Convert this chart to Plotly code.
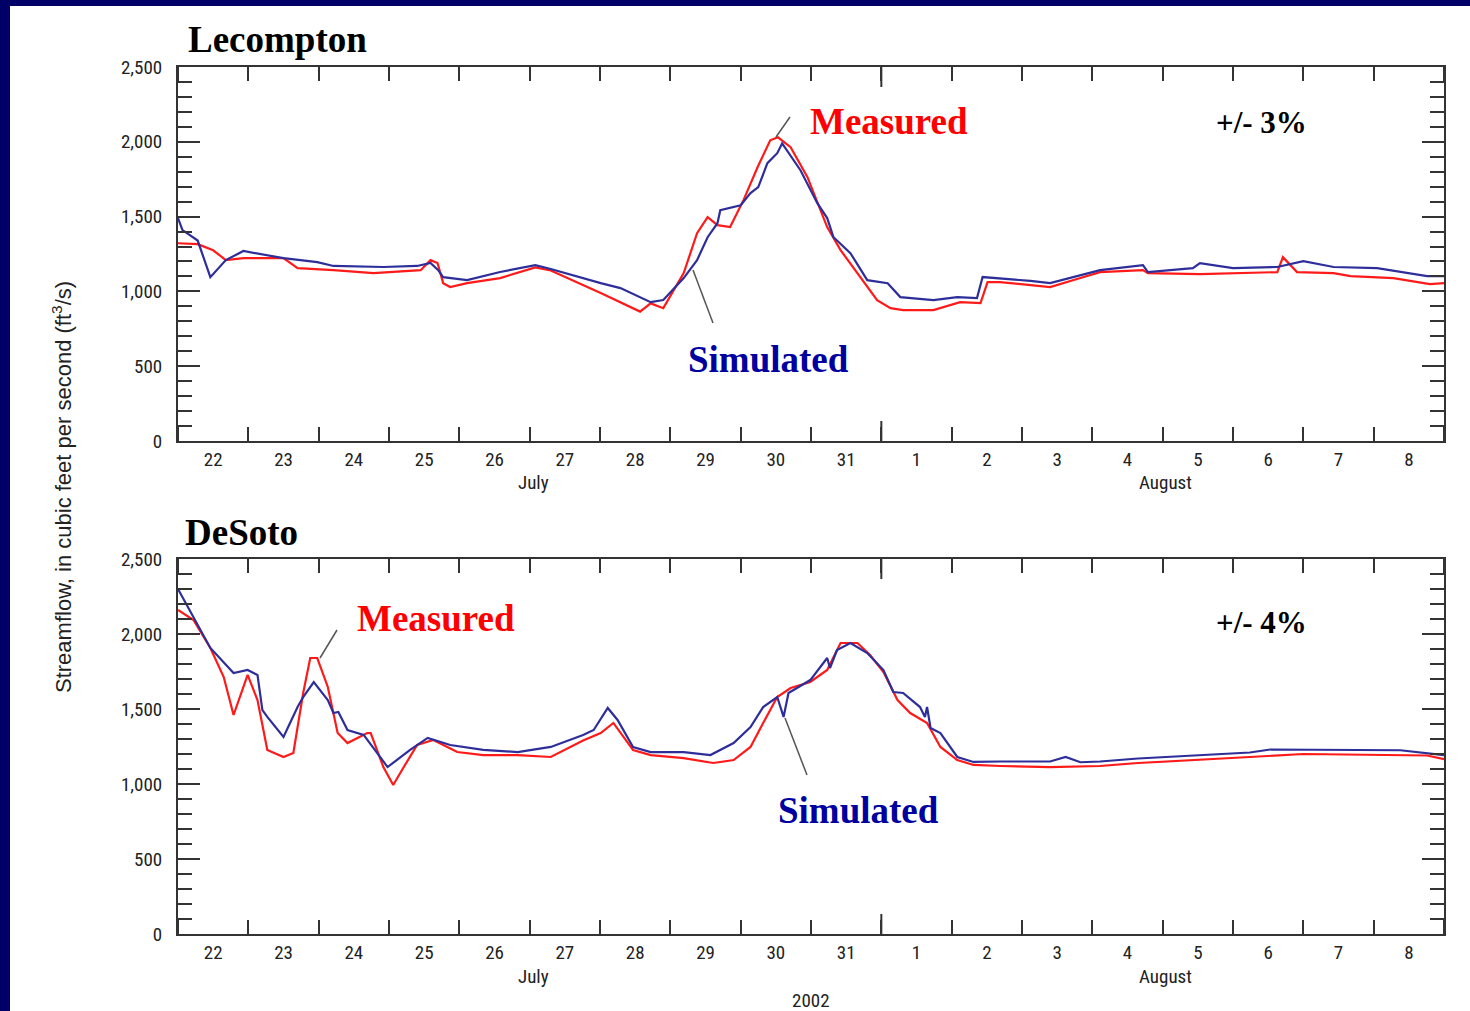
import pandas as pd
import plotly.graph_objects as go

# ---------------- data (days after 2002-07-22 00:00, streamflow ft3/s) ----------------
lec_meas_day = [0.0, 0.28, 0.50, 0.68, 0.93, 1.50, 1.70, 2.21, 2.78, 3.45, 3.59, 3.69, 3.77, 3.87,
                4.11, 4.58, 5.08, 5.30, 6.01, 6.29, 6.57, 6.72, 6.90, 7.19, 7.38, 7.53, 7.67, 7.85,
                8.04, 8.24, 8.42, 8.53, 8.71, 8.95, 9.23, 9.42, 9.70, 9.94, 10.13, 10.31, 10.74,
                11.12, 11.41, 11.51, 11.69, 12.12, 12.40, 12.83, 13.11, 13.72, 13.79, 14.53, 15.00,
                15.63, 15.71, 15.91, 16.43, 16.67, 17.28, 17.80, 18.0]
lec_meas_q = [1322, 1316, 1275, 1209, 1222, 1222, 1155, 1142, 1122, 1142, 1209, 1190, 1055, 1029,
              1055, 1089, 1160, 1140, 990, 930, 865, 920, 888, 1122, 1389, 1496, 1443, 1430,
              1610, 1830, 2010, 2030, 1964, 1764, 1430, 1276, 1096, 942, 888, 875, 875,
              928, 922, 1062, 1062, 1040, 1029, 1090, 1129, 1142, 1122, 1116, 1122,
              1129, 1229, 1129, 1122, 1102, 1089, 1049, 1055]

lec_sim_day = [0.0, 0.064, 0.28, 0.46, 0.68, 0.93, 1.50, 1.98, 2.21, 2.92, 3.40, 3.59, 3.70, 3.77,
               4.11, 4.58, 5.08, 5.30, 6.01, 6.29, 6.72, 6.90, 7.19, 7.38, 7.53, 7.67, 7.71, 8.00,
               8.14, 8.25, 8.38, 8.52, 8.59, 8.85, 9.09, 9.23, 9.32, 9.56, 9.80, 10.09, 10.27,
               10.74, 11.08, 11.36, 11.44, 11.65, 12.12, 12.40, 12.83, 13.11, 13.72, 13.79, 14.43,
               14.53, 15.00, 15.63, 16.00, 16.43, 17.05, 17.76, 18.0]
lec_sim_q = [1490, 1410, 1340, 1095, 1209, 1270, 1222, 1196, 1170, 1163, 1170, 1190, 1142, 1095,
             1075, 1130, 1175, 1150, 1055, 1022, 928, 942, 1089, 1209, 1362, 1456, 1543, 1576,
             1657, 1697, 1857, 1924, 1990, 1810, 1590, 1490, 1362, 1256, 1075, 1055, 962,
             942, 962, 955, 1096, 1089, 1070, 1055, 1110, 1142, 1176, 1129, 1155,
             1189, 1155, 1163, 1202, 1163, 1155, 1102, 1102]

des_meas_day = [0.0, 0.22, 0.46, 0.65, 0.79, 0.99, 1.13, 1.27, 1.50, 1.64, 1.78, 1.88, 1.98, 2.13,
                2.27, 2.41, 2.69, 2.74, 2.92, 3.06, 3.21, 3.40, 3.63, 3.97, 4.34, 4.83, 5.30, 5.76,
                6.01, 6.19, 6.47, 6.72, 7.19, 7.61, 7.90, 8.14, 8.32, 8.52, 8.71, 8.99, 9.23, 9.42,
                9.66, 9.84, 10.03, 10.23, 10.41, 10.65, 10.84, 11.08, 11.31, 11.69, 12.40, 13.11,
                13.65, 14.53, 15.24, 16.00, 17.05, 17.76, 18.0]
des_meas_q = [2160, 2093, 1907, 1713, 1460, 1727, 1560, 1227, 1180, 1207, 1607, 1840, 1840, 1647,
              1340, 1273, 1340, 1340, 1113, 993, 1113, 1260, 1293, 1213, 1193, 1193, 1180, 1290,
              1340, 1407, 1227, 1193, 1173, 1140, 1160, 1247, 1407, 1580, 1640, 1680, 1760, 1940,
              1940, 1860, 1747, 1560, 1473, 1407, 1247, 1160, 1127, 1120, 1113, 1120,
              1140, 1160, 1180, 1200, 1195, 1190, 1165]

des_sim_day = [0.0, 0.22, 0.46, 0.79, 0.99, 1.13, 1.20, 1.27, 1.39, 1.50, 1.70, 1.78, 1.93, 2.13,
               2.21, 2.28, 2.41, 2.64, 2.98, 3.30, 3.55, 3.87, 4.34, 4.83, 5.30, 5.76, 5.91, 6.11,
               6.25, 6.47, 6.72, 7.19, 7.57, 7.90, 8.14, 8.32, 8.52, 8.61, 8.68, 8.99, 9.23, 9.27,
               9.37, 9.56, 9.80, 10.03, 10.17, 10.31, 10.55, 10.62, 10.65, 10.70, 10.84, 11.08,
               11.31, 11.69, 12.40, 12.62, 12.83, 13.11, 13.65, 14.53, 15.24, 15.53, 16.95, 17.38,
               18.0]
des_sim_q = [2300, 2113, 1907, 1740, 1760, 1727, 1493, 1447, 1380, 1313, 1513, 1580, 1680, 1560,
             1473, 1480, 1360, 1327, 1113, 1227, 1307, 1260, 1227, 1213, 1247, 1327, 1360, 1507,
             1427, 1247, 1213, 1213, 1193, 1273, 1380, 1513, 1580, 1447, 1607, 1693, 1840, 1773,
             1893, 1940, 1873, 1760, 1613, 1607, 1513, 1447, 1513, 1373, 1340, 1180,
             1147, 1150, 1150, 1180, 1145, 1150, 1170, 1190, 1210, 1230, 1225, 1225,
             1193]

start = pd.Timestamp("2002-07-22 00:00")
end = pd.Timestamp("2002-08-09 00:00")


def to_time(days):
    return [start + pd.Timedelta(days=d) for d in days]


RED = "#ff1a1a"
BLUE = "#2e2e9a"
NAVY = "#000068"
AX = "#333333"
W, H = 1470, 1011
TICKFONT = "Liberation Sans Narrow, Arial Narrow, Roboto Condensed, Liberation Sans, sans-serif"
LABELFONT = "Liberation Sans, Arial, sans-serif"
SERIF = "Liberation Serif, Times New Roman, serif"

fig = go.Figure()
fig.add_trace(go.Scatter(x=to_time(lec_meas_day), y=lec_meas_q, mode="lines",
                         line=dict(color=RED, width=2.2), xaxis="x", yaxis="y", showlegend=False))
fig.add_trace(go.Scatter(x=to_time(lec_sim_day), y=lec_sim_q, mode="lines",
                         line=dict(color=BLUE, width=2.2), xaxis="x", yaxis="y", showlegend=False))
fig.add_trace(go.Scatter(x=to_time(des_meas_day), y=des_meas_q, mode="lines",
                         line=dict(color=RED, width=2.2), xaxis="x2", yaxis="y2", showlegend=False))
fig.add_trace(go.Scatter(x=to_time(des_sim_day), y=des_sim_q, mode="lines",
                         line=dict(color=BLUE, width=2.2), xaxis="x2", yaxis="y2", showlegend=False))

xdom = [178 / W, 1444 / W]
ydom_top = [1 - 441 / H, 1 - 67 / H]
ydom_bot = [1 - 934 / H, 1 - 559 / H]

xcommon = dict(
    type="date", range=[start, end], domain=xdom, automargin=False,
    showline=True, linecolor=AX, linewidth=2, mirror="ticks",
    tick0="2002-07-22 12:00", dtick=86400000, tickformat="%-d",
    ticks="", showgrid=False, zeroline=False,
    tickfont=dict(family=TICKFONT, size=19, color="#222"),
    minor=dict(tick0="2002-07-22 00:00", dtick=86400000, ticks="inside", ticklen=14,
               tickwidth=2, tickcolor=AX, showgrid=False),
)
ycommon = dict(
    range=[0, 2500], tickvals=[0, 500, 1000, 1500, 2000, 2500], tickformat=",",
    automargin=False,
    showline=True, linecolor=AX, linewidth=2, mirror="ticks",
    ticks="inside", ticklen=22, tickwidth=2, tickcolor=AX,
    showgrid=False, zeroline=False,
    tickfont=dict(family=TICKFONT, size=19, color="#222"),
    ticklabelstandoff=10,
    minor=dict(dtick=100, ticks="inside", ticklen=14, tickwidth=2, tickcolor=AX, showgrid=False),
)

fig.update_layout(
    width=W, height=H, margin=dict(l=0, r=0, t=0, b=0, autoexpand=False),
    paper_bgcolor="white", plot_bgcolor="white",
    xaxis=dict(xcommon, anchor="y"),
    yaxis=dict(ycommon, domain=ydom_top, anchor="x"),
    xaxis2=dict(xcommon, anchor="y2"),
    yaxis2=dict(ycommon, domain=ydom_bot, anchor="x2"),
)

shapes = [
    dict(type="rect", xref="paper", yref="paper", x0=0, x1=1, y0=1 - 6 / H, y1=1,
         fillcolor=NAVY, line=dict(width=0), layer="below"),
    dict(type="rect", xref="paper", yref="paper", x0=0, x1=10 / W, y0=0, y1=1,
         fillcolor=NAVY, line=dict(width=0), layer="below"),
]
aug1 = pd.Timestamp("2002-08-01")
for xr, yr in (("x", "y"), ("x2", "y2")):
    shapes.append(dict(type="line", xref=xr, yref=yr + " domain", x0=aug1, x1=aug1,
                       y0=0, y1=20 / 374, line=dict(color=AX, width=2)))
    shapes.append(dict(type="line", xref=xr, yref=yr + " domain", x0=aug1, x1=aug1,
                       y0=1 - 20 / 374, y1=1, line=dict(color=AX, width=2)))
fig.update_layout(shapes=shapes)


def px(x):
    return x / W


def py(y):
    return 1 - y / H


annotations = []


def text(x, y, s, size, color, family=SERIF, xanchor="left", bold=True, angle=0):
    annotations.append(dict(
        xref="paper", yref="paper", x=px(x), y=py(y), text=f"<b>{s}</b>" if bold else s,
        showarrow=False, xanchor=xanchor, yanchor="middle", textangle=angle,
        font=dict(family=family, size=size, color=color)))


text(186, 39, "Lecompton", 37, "black")
text(183, 532, "DeSoto", 37, "black")
text(808, 122, "Measured", 37, "#ff0000")
text(686, 359, "Simulated", 37, "#0000a0")
text(1214, 123, "+/- 3%", 31, "black")
text(355, 618, "Measured", 37, "#ff0000")
text(776, 810, "Simulated", 37, "#0000a0")
text(1214, 622, "+/- 4%", 31, "black")

text(533, 483, "July", 19, "#222", family=TICKFONT, xanchor="center", bold=False)
text(1165, 483, "August", 19, "#222", family=TICKFONT, xanchor="center", bold=False)
text(533, 976, "July", 19, "#222", family=TICKFONT, xanchor="center", bold=False)
text(1165, 976, "August", 19, "#222", family=TICKFONT, xanchor="center", bold=False)
text(811, 1000, "2002", 19, "#222", family=TICKFONT, xanchor="center", bold=False)
text(62, 487, "Streamflow, in cubic feet per second (ft<sup>3</sup>/s)", 22, "#222",
     family=LABELFONT, xanchor="center", bold=False, angle=-90)

# leader lines
for (x0, y0, x1, y1) in [(790, 117, 776, 137), (693, 270, 713, 323),
                         (337, 630, 320, 658), (785, 718, 807, 775)]:
    fig.add_shape(type="line", xref="paper", yref="paper", x0=px(x0), y0=py(y0),
                  x1=px(x1), y1=py(y1), line=dict(color="#555", width=1.5))

fig.update_layout(annotations=annotations)
fig.write_html("out.html")
